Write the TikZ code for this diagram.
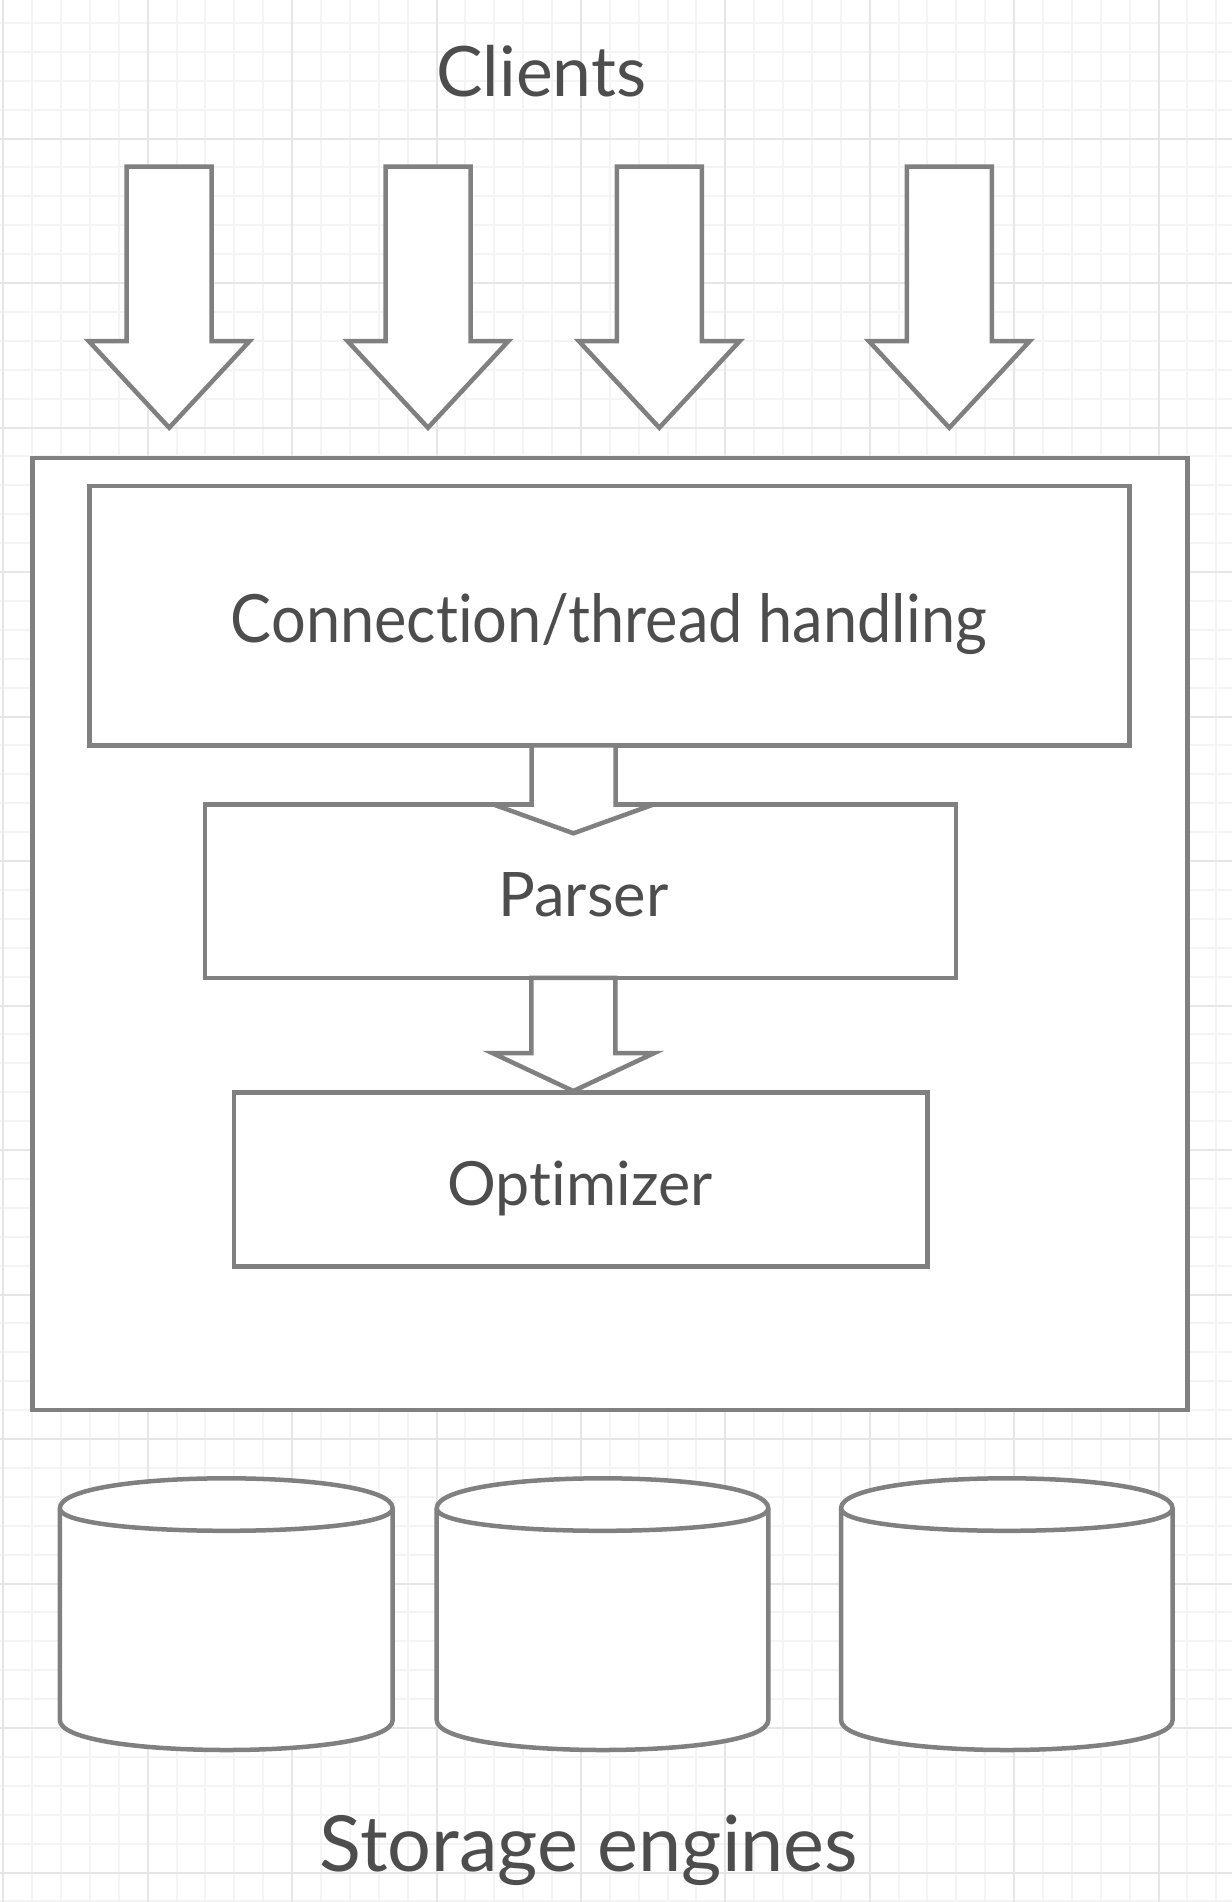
\documentclass[tikz,border=0pt]{standalone}
\usepackage{fontspec}
\setmainfont{Lato}[Ligatures={NoCommon,NoRequired}]
\definecolor{linegray}{HTML}{808080}
\definecolor{textgray}{HTML}{4D4D4D}
\definecolor{minorgrid}{HTML}{F4F4F4}
\definecolor{majorgrid}{HTML}{E6E6E6}
\tikzset{
  shapeline/.style={draw=linegray, line width=2.25pt, fill=white, line join=miter},
  boxnode/.style={shapeline, rectangle, inner sep=0pt, anchor=center},
  lbl/.style={text=textgray, inner sep=0pt, anchor=base},
  gridminor/.style={draw=minorgrid, line width=1pt},
  gridmajor/.style={draw=majorgrid, line width=1pt},
}
% down block arrow: cx, ytop, yshoulder, ytip, shaft half width, head half width
\newcommand\blockarrowdown[6]{%
  \draw[shapeline] ({#1-#5},#2) -- ({#1+#5},#2) -- ({#1+#5},#3) -- ({#1+#6},#3)
    -- (#1,#4) -- ({#1-#6},#3) -- ({#1-#5},#3) -- cycle;}
% cylinder: xl, xr, ytop, ybottom, dy
\newcommand\dbcylinder[5]{%
  \draw[shapeline] (#1,{#3+#5}) .. controls (#1,{#3-#5/3}) and (#2,{#3-#5/3}) .. (#2,{#3+#5})
    -- (#2,{#4-#5}) .. controls (#2,{#4+#5/3}) and (#1,{#4+#5/3}) .. (#1,{#4-#5}) -- cycle;
  \draw[shapeline, fill=none] (#1,{#3+#5}) .. controls (#1,{#3+2*#5}) and (#2,{#3+2*#5}) .. (#2,{#3+#5});}
\begin{document}
\begin{tikzpicture}[x=0.5pt, y=-0.5pt]
\useasboundingbox (0,0) rectangle (1232,1902);
\clip (0,0) rectangle (1232,1902);
\fill[white] (0,0) rectangle (1232,1902);
% grid
\foreach \j in {0,...,42} {
  \pgfmathsetmacro\xx{3.3+28.88*\j}
  \draw[gridminor] (\xx,0) -- (\xx,1902);
}
\foreach \j in {0,...,66} {
  \pgfmathsetmacro\yy{-6+28.9*\j}
  \draw[gridminor] (0,\yy) -- (1232,\yy);
}
\foreach \j in {0,...,8} {
  \pgfmathsetmacro\xx{3.3+144.4*\j}
  \draw[gridmajor] (\xx,0) -- (\xx,1902);
}
\foreach \j in {1,...,13} {
  \pgfmathsetmacro\yy{-6+144.5*\j}
  \draw[gridmajor] (0,\yy) -- (1232,\yy);
}
% labels outside
\node[lbl, font=\fontsize{34.8pt}{40pt}\selectfont] (clients) at (541.4,96.7) {Clients};
\node[lbl, font=\fontsize{38.7pt}{46pt}\selectfont] (storage) at (589,1871) {Storage engines};
% client arrows
\blockarrowdown{169.2}{166.7}{341}{427.7}{42.5}{80.5}
\blockarrowdown{428}{166.7}{341}{427.7}{42.5}{80.5}
\blockarrowdown{659.3}{166.7}{341}{427.7}{42.5}{80.5}
\blockarrowdown{949.3}{166.7}{341}{427.7}{42.5}{80.5}
% server box
\node[boxnode, minimum width=1155pt*0.5, minimum height=952.4pt*0.5] (server) at (609.8,934) {};
\node[boxnode, minimum width=1040pt*0.5, minimum height=259.5pt*0.5] (conn) at (609.3,615.6) {};
\node[boxnode, minimum width=751pt*0.5, minimum height=173.4pt*0.5] (parser) at (580.5,891.2) {};
\node[boxnode, minimum width=693.3pt*0.5, minimum height=173.9pt*0.5] (optimizer) at (580.65,1179.65) {};
\node[lbl, font=\fontsize{33.3pt}{40pt}\selectfont] at (609,642.7) {\scalebox{0.92}[1]{Connection/thread handling}};
\node[lbl, font=\fontsize{30.7pt}{36pt}\selectfont] at (583.3,916) {Parser};
\node[lbl, font=\fontsize{30.5pt}{36pt}\selectfont] at (580,1205.5) {Optimizer};
% inner arrows
\blockarrowdown{573.5}{745.4}{804.5}{833.3}{42}{80}
\blockarrowdown{573.3}{977.9}{1053}{1091}{42}{81}
% storage engines
\dbcylinder{59.8}{392.7}{1478.3}{1750}{30}
\dbcylinder{436.7}{768.3}{1478.3}{1750}{30}
\dbcylinder{841}{1172.6}{1478.3}{1750}{30}
\end{tikzpicture}
\end{document}
